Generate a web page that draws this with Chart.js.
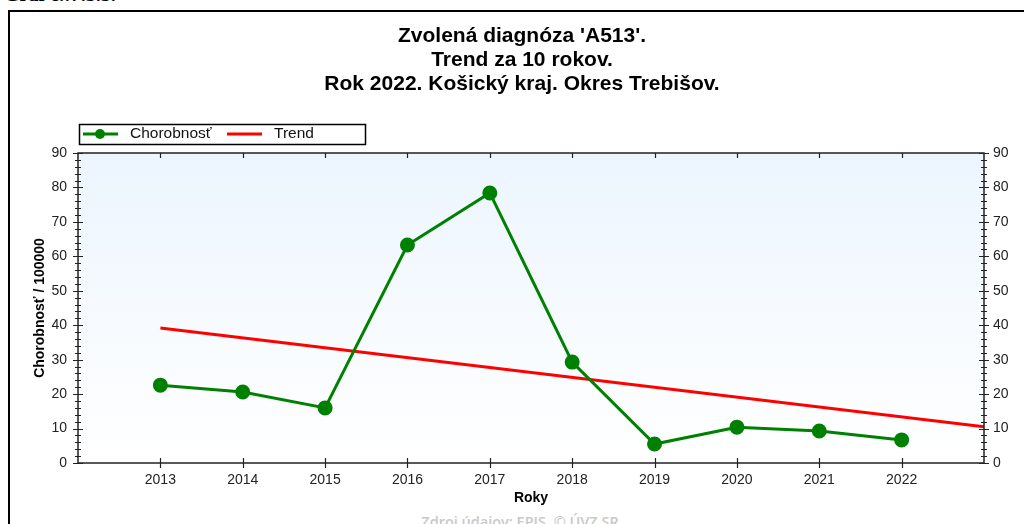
<!DOCTYPE html>
<html>
<head>
<meta charset="utf-8">
<script src="https://cdn.jsdelivr.net/npm/chart.js@4/dist/chart.umd.min.js"></script>
<style>
  body { margin: 0; background: #fff; overflow: hidden; }
  #frame { position: absolute; left: 8px; top: 10px; width: 1100px; height: 600px; border: 2px solid #000; }
  #graf { position: absolute; left: 4px; top: -17px; font: bold 20px "Liberation Serif", serif; color: #000; }
  #zdroj { position: absolute; left: 0; width: 1040px; top: 512px; text-align: center;
           font: 600 14.5px "Open Sans", sans-serif; color: #c9c9c9; }
  canvas { position: absolute; left: 0; top: 0; }
</style>
</head>
<body>
<div id="graf">Graf č.:7.5.3.</div>
<div id="frame"></div>
<div id="zdroj">Zdroj údajov: EPIS, © ÚVZ SR</div>
<canvas id="chart" width="1024" height="524"></canvas>
<script>
const years = [2013, 2014, 2015, 2016, 2017, 2018, 2019, 2020, 2021, 2022];
const chorobnost = [22.6, 20.6, 16.0, 63.3, 78.4, 29.3, 5.5, 10.4, 9.3, 6.7];
const trendYears = [2013, 2023];
const trendValues = [39.2, 10.5];
const titleLines = ["Zvolená diagnóza 'A513'.", 'Trend za 10 rokov.', 'Rok 2022. Košický kraj. Okres Trebišov.'];

const FONT = '"Liberation Sans", Arial, sans-serif';

// pozadie, rámik, ticky, legenda a nadpis
const decor = {
    id: 'decor',
    beforeDatasetsDraw(chart) {
        const { ctx, chartArea: a } = chart;
        const g = ctx.createLinearGradient(0, a.top, 0, a.bottom);
        g.addColorStop(0, '#ecf5fe');
        g.addColorStop(1, '#ffffff');
        ctx.save();
        ctx.fillStyle = g;
        ctx.fillRect(a.left, a.top, a.right - a.left, a.bottom - a.top);
        ctx.restore();
    },
    afterDraw(chart) {
        const { ctx, chartArea: a, scales } = chart;
        ctx.save();
        ctx.strokeStyle = '#222';
        ctx.lineWidth = 1.5;
        ctx.strokeRect(a.left, a.top, a.right - a.left, a.bottom - a.top);

        ctx.lineWidth = 1.2;
        ctx.beginPath();
        for (let v = 0; v <= 90; v += 2) {
            const y = Math.round(scales.y.getPixelForValue(v)) + 0.5;
            const len = v % 10 === 0 ? 5 : 3;
            ctx.moveTo(a.left - len, y); ctx.lineTo(a.left + len, y);
            ctx.moveTo(a.right - len, y); ctx.lineTo(a.right + len, y);
        }
        years.forEach(yr => {
            const x = Math.round(scales.x.getPixelForValue(yr)) + 0.5;
            ctx.moveTo(x, a.bottom - 5); ctx.lineTo(x, a.bottom + 5);
            ctx.moveTo(x, a.top); ctx.lineTo(x, a.top + 5);
        });
        ctx.stroke();

        // legenda
        ctx.lineWidth = 1.5;
        ctx.strokeStyle = '#000';
        ctx.strokeRect(79.5, 124.5, 286, 20);
        const ds = chart.data.datasets;
        ctx.lineWidth = 3;
        ctx.strokeStyle = ds[0].borderColor;
        ctx.beginPath(); ctx.moveTo(83, 134); ctx.lineTo(118, 134); ctx.stroke();
        ctx.fillStyle = ds[0].backgroundColor;
        ctx.beginPath(); ctx.arc(100, 134, 5, 0, Math.PI * 2); ctx.fill();
        ctx.strokeStyle = ds[1].borderColor;
        ctx.beginPath(); ctx.moveTo(227, 134); ctx.lineTo(262, 134); ctx.stroke();
        ctx.fillStyle = '#111';
        ctx.font = '15.5px ' + FONT;
        ctx.textBaseline = 'middle';
        ctx.fillText(ds[0].label, 130, 134);
        ctx.fillText(ds[1].label, 274, 134);

        // nadpis
        ctx.font = 'bold 21px ' + FONT;
        ctx.textAlign = 'center';
        ctx.fillStyle = '#000';
        titleLines.forEach((t, i) => ctx.fillText(t, 522, 36 + i * 24));
        ctx.restore();
    }
};

const ctx = document.getElementById('chart').getContext('2d');
const chart = new Chart(ctx, {
    type: 'line',
    data: {
        datasets: [{
            label: 'Chorobnosť',
            data: years.map((x, i) => ({ x, y: chorobnost[i] })),
            borderColor: '#008000',
            backgroundColor: '#008000',
            borderWidth: 3,
            pointRadius: 6,
            pointHoverRadius: 6,
            tension: 0,
            yAxisID: 'y'
        }, {
            label: 'Trend',
            data: trendYears.map((x, i) => ({ x, y: trendValues[i] })),
            borderColor: '#ff0000',
            backgroundColor: '#ff0000',
            borderWidth: 3,
            pointRadius: 0,
            tension: 0,
            yAxisID: 'y'
        }]
    },
    options: {
        responsive: false,
        animation: false,
        layout: { padding: { top: 153, left: 0, right: 0, bottom: 0 } },
        plugins: {
            legend: { display: false },
            title: { display: false },
            tooltip: { enabled: false }
        },
        scales: {
            x: {
                type: 'linear',
                min: 2012,
                max: 2023,
                afterFit: s => { s.height = 61; },
                afterBuildTicks: s => { s.ticks = years.map(v => ({ value: v })); },
                grid: { display: false, drawTicks: false },
                border: { display: false },
                ticks: { padding: 9, color: '#222', font: { family: FONT, size: 14 }, callback: v => String(v) },
                title: { display: true, text: 'Roky', color: '#000', font: { family: FONT, size: 14, weight: 'bold' }, padding: { top: 0, bottom: 17 } }
            },
            y: {
                position: 'left',
                min: 0,
                max: 90,
                afterFit: s => { s.width = 78; },
                grid: { display: false, drawTicks: false },
                border: { display: false },
                ticks: { stepSize: 10, padding: 11, color: '#222', font: { family: FONT, size: 14 } },
                title: { display: true, text: 'Chorobnosť / 100000', color: '#000', font: { family: FONT, size: 14, weight: 'bold' }, padding: { top: 32, bottom: 0 } }
            },
            y2: {
                position: 'right',
                min: 0,
                max: 90,
                afterFit: s => { s.width = 40; },
                grid: { display: false, drawTicks: false },
                border: { display: false },
                ticks: { stepSize: 10, padding: 9, color: '#222', font: { family: FONT, size: 14 } }
            }
        }
    },
    plugins: [decor]
});
</script>
</body>
</html>
